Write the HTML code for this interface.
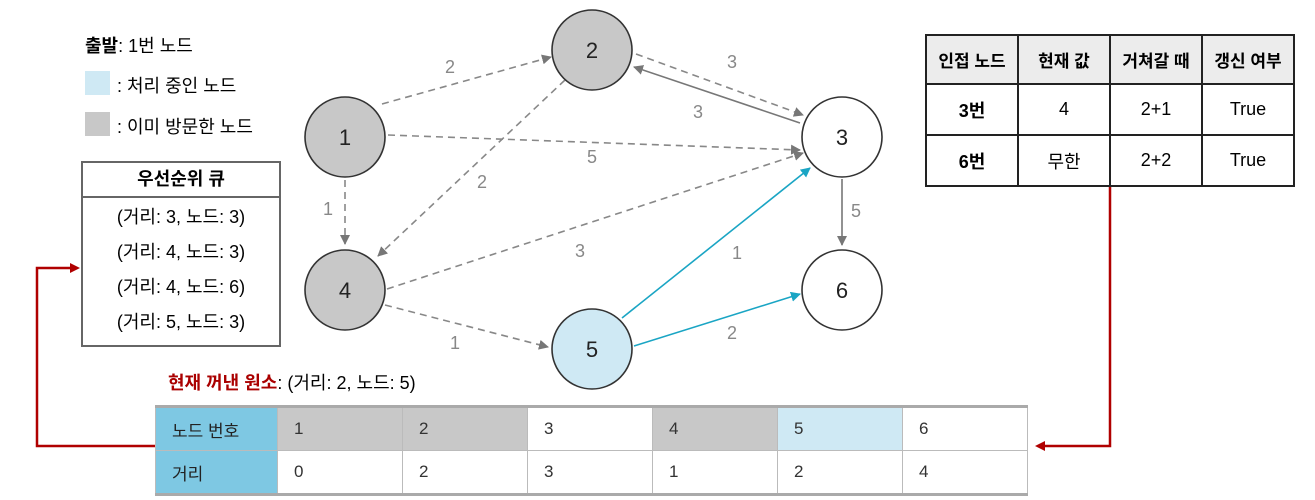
<!DOCTYPE html>
<html><head><meta charset="utf-8"><style>
body{margin:0;width:1315px;height:500px;background:#fff;font-family:"Liberation Sans","Noto Sans CJK KR",sans-serif;position:relative;overflow:hidden}
.a{position:absolute}
table{border-collapse:collapse}
#rt{position:absolute;left:925px;top:34px;width:370px;height:153px;font-size:18px;text-align:center;table-layout:fixed}
#rt td{border:2px solid #222;}
#bt{position:absolute;left:155px;top:405px;width:873px;height:82px;font-size:17px;color:#333;table-layout:fixed}
#bt td{border:1px solid #bbb;padding-left:16px;height:40px}
</style></head><body>
<div class="a" style="left:85px;top:32px;font-size:18px"><b>출발</b>: 1번 노드</div>
<div class="a" style="left:85px;top:71px;width:25px;height:24px;background:#cfe9f4"></div>
<div class="a" style="left:117px;top:72px;font-size:18px">: 처리 중인 노드</div>
<div class="a" style="left:85px;top:112px;width:25px;height:24px;background:#c8c8c8"></div>
<div class="a" style="left:117px;top:113px;font-size:18px">: 이미 방문한 노드</div>
<div class="a" style="left:81px;top:161px;width:196px;height:182px;border:2px solid #666;font-size:18px;text-align:center">
<div style="height:33px;line-height:33px;border-bottom:2px solid #666;font-weight:bold;font-size:18px">우선순위 큐</div>
<div style="line-height:35px;margin-top:2px">(거리: 3, 노드: 3)<br>(거리: 4, 노드: 3)<br>(거리: 4, 노드: 6)<br>(거리: 5, 노드: 3)</div></div>
<svg class="a" style="left:0;top:0" width="1315" height="500">
<defs>
<marker id="g" markerWidth="10" markerHeight="10" refX="9" refY="5" orient="auto" markerUnits="userSpaceOnUse"><path d="M0,0L10,5L0,10z" fill="#777"/></marker>
<marker id="b" markerWidth="10" markerHeight="10" refX="9" refY="5" orient="auto" markerUnits="userSpaceOnUse"><path d="M0,0L10,5L0,10z" fill="#1aa5c4"/></marker>
</defs>
<g stroke="#888" stroke-width="1.6" fill="none" stroke-dasharray="7,5" marker-end="url(#g)">
<line x1="382" y1="104" x2="551" y2="57"/>
<line x1="388" y1="135" x2="800" y2="150"/>
<line x1="345" y1="180" x2="345" y2="244"/>
<line x1="565" y1="80" x2="378" y2="256"/>
<line x1="636" y1="54" x2="803" y2="115"/>
<line x1="387" y1="289" x2="803" y2="153"/>
<line x1="385" y1="305" x2="548" y2="347"/>
</g>
<g stroke="#777" stroke-width="1.6" marker-end="url(#g)">
<line x1="800" y1="123" x2="634" y2="67"/>
<line x1="842" y1="179" x2="842" y2="245"/>
</g>
<g stroke="#1aa5c4" stroke-width="1.6" marker-end="url(#b)">
<line x1="622" y1="318" x2="810" y2="168"/>
<line x1="634" y1="346" x2="800" y2="294"/>
</g>
<g stroke="#333" stroke-width="1.6">
<circle cx="345" cy="137" r="40" fill="#c8c8c8"/>
<circle cx="592" cy="50" r="40" fill="#c8c8c8"/>
<circle cx="842" cy="137" r="40" fill="#fff"/>
<circle cx="345" cy="290" r="40" fill="#c8c8c8"/>
<circle cx="592" cy="349" r="40" fill="#cfe9f4"/>
<circle cx="842" cy="290" r="40" fill="#fff"/>
</g>
<g font-size="22" text-anchor="middle" fill="#222" font-family="Liberation Sans">
<text x="345" y="145">1</text><text x="592" y="58">2</text><text x="842" y="145">3</text>
<text x="345" y="298">4</text><text x="592" y="357">5</text><text x="842" y="298">6</text>
</g>
<g font-size="18" text-anchor="middle" fill="#888" font-family="Liberation Sans">
<text x="450" y="73">2</text><text x="592" y="163">5</text><text x="328" y="215">1</text>
<text x="482" y="188">2</text><text x="732" y="68">3</text><text x="698" y="118">3</text>
<text x="580" y="257">3</text><text x="455" y="349">1</text><text x="856" y="217">5</text>
<text x="737" y="259">1</text><text x="732" y="339">2</text>
</g>
<g stroke="#b00000" stroke-width="2.5" fill="none">
<polyline points="155,446 37,446 37,268 72,268"/>
<polyline points="1110,187 1110,446 1043,446"/>
</g>
<path d="M80,268L70,263L70,273z" fill="#b00000"/>
<path d="M1035,446L1045,441L1045,451z" fill="#b00000"/>
</svg>
<table id="rt"><tr style="background:#ececec;font-weight:bold;font-size:17px"><td>인접 노드</td><td>현재 값</td><td>거쳐갈 때</td><td>갱신 여부</td></tr>
<tr><td><b>3번</b></td><td>4</td><td>2+1</td><td>True</td></tr>
<tr><td><b>6번</b></td><td>무한</td><td>2+2</td><td>True</td></tr></table>
<div class="a" style="left:168px;top:369px;font-size:18px"><b style="color:#a00">현재 꺼낸 원소</b>: (거리: 2, 노드: 5)</div>
<table id="bt"><tr style="border-top:3px solid #aaa"><td style="background:#7ec8e3;color:#222;width:104px">노드 번호</td><td style="background:#c8c8c8">1</td><td style="background:#c8c8c8">2</td><td>3</td><td style="background:#c8c8c8">4</td><td style="background:#cfe9f4">5</td><td>6</td></tr>
<tr style="border-bottom:3px solid #aaa"><td style="background:#7ec8e3;color:#222">거리</td><td>0</td><td>2</td><td>3</td><td>1</td><td>2</td><td>4</td></tr></table>
</body></html>
